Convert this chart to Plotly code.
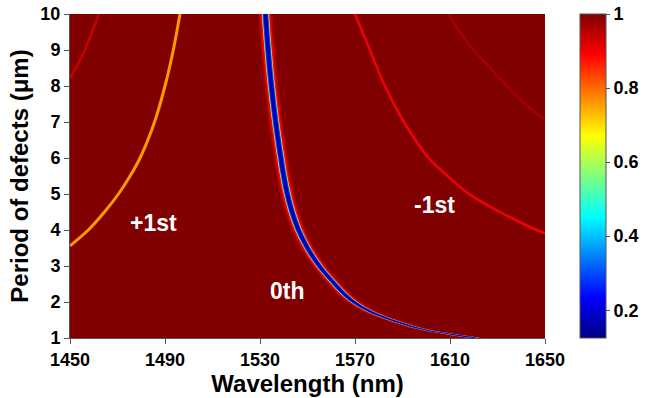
import plotly.graph_objects as go
from plotly.colors import sample_colorscale

# ---------------- data ----------------
wl_range = [1450, 1650]            # nm
period_range = [1, 10]             # um
x_ticks = [1450, 1490, 1530, 1570, 1610, 1650]
y_ticks = [1, 2, 3, 4, 5, 6, 7, 8, 9, 10]
cbar_ticks = [0.2, 0.4, 0.6, 0.8, 1]
cbar_min, cbar_max = 0.125, 1.0
background_level = 1.0

# 0th order resonance (deep dip)
period_0th = [10, 9, 8, 7, 6, 5.5, 5, 4.5, 4, 3.5, 3, 2.5, 2.25, 2, 1.75, 1.5, 1.3, 1.15, 1.0]
wl_0th = [1532.3, 1533.4, 1534.8, 1536.6, 1538.8, 1540.0, 1541.5, 1543.5, 1546.2, 1550.0,
          1555.0, 1561.5, 1565, 1569.5, 1576, 1585.5, 1595, 1606, 1620.5]
level_0th = 0.17

# +1st order
period_p1 = [10, 9, 8, 7, 6, 5.5, 5, 4.5, 4, 3.56]
wl_p1 = [1496.3, 1493.5, 1490.0, 1485.6, 1479.5, 1475.3, 1470.4, 1464.5, 1457.7, 1450]
level_p1 = 0.76

# -1st order
period_m1 = [10, 9, 8, 7, 6, 5.5, 5, 4.5, 4, 3.91]
wl_m1 = [1570, 1576.3, 1582.6, 1590.6, 1601.0, 1609.0, 1618, 1631, 1646.5, 1650]
level_m1 = 0.9

# +2nd order (top-left, faint)
period_p2 = [10, 9.5, 9, 8.6, 8.22]
wl_p2 = [1462, 1459.3, 1456.3, 1453.3, 1450]
level_p2 = 0.94

# -2nd order (top-right, faint)
period_m2 = [10, 9.5, 9, 8.5, 7.89, 7.5, 7.06]
wl_m2 = [1609.3, 1614.2, 1619.8, 1627, 1635.3, 1641.5, 1650]
level_m2 = 0.97

labels = ["+1st", "0th", "-1st"]
label_wl = [1485, 1541.4, 1603.3]
label_period = [4.2, 2.3, 4.7]

# ---------------- colours (MATLAB jet) ----------------
jet = [[0.0, "rgb(0,0,128)"], [0.125, "rgb(0,0,255)"], [0.375, "rgb(0,255,255)"],
       [0.625, "rgb(255,255,0)"], [0.875, "rgb(255,0,0)"], [1.0, "rgb(128,0,0)"]]


def col(v):
    t = (v - cbar_min) / (cbar_max - cbar_min)
    t = min(max(t, 0.0), 1.0)
    return sample_colorscale(jet, [t])[0]


font = "Liberation Sans, Arial, sans-serif"

fig = go.Figure()

# background map
fig.add_trace(go.Heatmap(
    x=wl_range, y=period_range,
    z=[[background_level, background_level], [background_level, background_level]],
    coloraxis="coloraxis", hoverinfo="skip"))


def ribbon(wls, pers, hw, level):
    xs = [w - hw for w in wls] + [w + hw for w in reversed(wls)]
    ys = list(pers) + list(reversed(pers))
    fig.add_trace(go.Scatter(x=xs, y=ys, mode="lines", fill="toself",
                             fillcolor=col(level), line=dict(width=0, shape="spline"),
                             hoverinfo="skip", showlegend=False))


# 0th order dip, constant width in wavelength
ribbon(wl_0th, period_0th, 3.0, 0.96)
ribbon(wl_0th, period_0th, 2.2, 0.89)
ribbon(wl_0th, period_0th, 1.5, 0.6)
ribbon(wl_0th, period_0th, 1.2, 0.3)
ribbon(wl_0th, period_0th, 0.8, level_0th)


def curve(wls, pers, level, width):
    fig.add_trace(go.Scatter(x=wls, y=pers, mode="lines",
                             line=dict(color=col(level), width=width, shape="spline"),
                             hoverinfo="skip", showlegend=False))


curve(wl_p2, period_p2, level_p2, 2.5)
curve(wl_m2, period_m2, level_m2, 2.5)
curve(wl_m1, period_m1, level_m1, 2.5)
curve(wl_p1, period_p1, level_p1, 3)

for t, xw, yp in zip(labels, label_wl, label_period):
    fig.add_annotation(x=xw, y=yp, text=t, showarrow=False,
                       font=dict(family=font, size=23, color="white", weight="bold"))

axis_common = dict(showgrid=False, zeroline=False, ticks="outside", ticklen=5,
                   tickcolor="#555", showline=True, linecolor="#555", linewidth=1,
                   automargin=False, ticklabeloverflow="allow",
                   tickfont=dict(family=font, size=18, color="black", weight="bold"))

fig.update_layout(
    width=656, height=398,
    margin=dict(l=70, r=111, t=14, b=60, autoexpand=False),
    paper_bgcolor="white", plot_bgcolor="white",
    xaxis=dict(range=wl_range, tickvals=x_ticks, **axis_common,
               title=dict(text="Wavelength (nm)", standoff=2,
                          font=dict(family=font, size=24, color="black", weight="bold"))),
    yaxis=dict(range=period_range, tickvals=y_ticks, **axis_common,
               title=dict(text="Period of defects (μm)", standoff=4,
                          font=dict(family=font, size=24, color="black", weight="bold"))),
    coloraxis=dict(colorscale=jet, cmin=cbar_min, cmax=cbar_max,
                   colorbar=dict(x=510 / 475, xanchor="left", xpad=0,
                                 y=0.5, yanchor="middle", len=1, ypad=0,
                                 thickness=26, outlinewidth=1, outlinecolor="#555",
                                 tickvals=cbar_ticks, ticktext=["0.2", "0.4", "0.6", "0.8", "1"],
                                 ticks="outside", ticklen=4, tickcolor="#555",
                                 ticklabeloverflow="allow",
                                 tickfont=dict(family=font, size=18, color="black", weight="bold"))),
    showlegend=False,
)

# remove the default page margin so the figure sits at the window's corner
fig.write_html("out.html", config={"displayModeBar": False, "staticPlot": True},
               post_script="document.body.style.margin='0';")
